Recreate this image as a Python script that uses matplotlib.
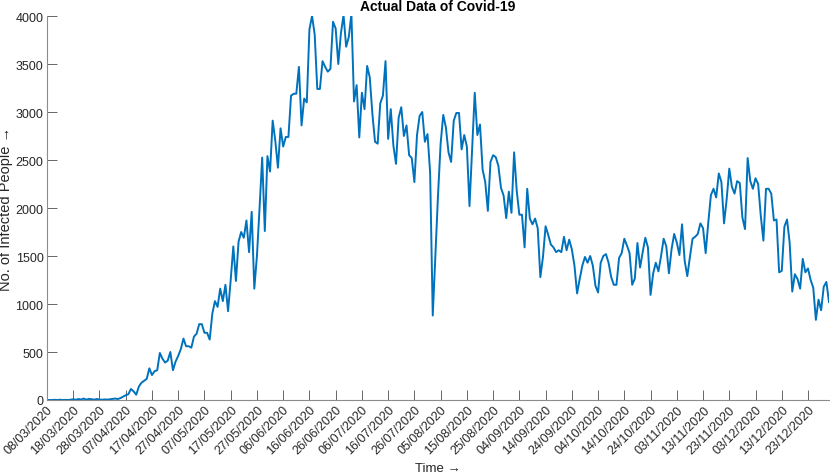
import numpy as np
import matplotlib
matplotlib.use("Agg")
import matplotlib.pyplot as plt

plt.rcParams['font.family'] = ['Liberation Sans', 'DejaVu Sans']

# Daily infected counts, 08/03/2020 - 31/12/2020
mar = [0, 0, 0, 2, 0, 3, 0, 1, 0, 3, 8, 2, 10, 5, 15, 3, 12, 8, 4, 10, 5, 3, 6, 4]
apr = [8, 12, 15, 10, 20, 35, 50, 60, 115, 90, 55, 140, 180, 200, 220, 330, 260, 300, 310, 490,
       430, 390, 410, 500, 310, 400, 460, 530, 640, 560]
may = [560, 545, 660, 690, 790, 790, 700, 700, 630, 900, 1030, 970, 1160, 1030, 1200, 925,
       1250, 1600, 1240, 1650, 1750, 1690, 1870, 1540, 1960, 1160, 1500, 2000, 2525, 1760, 2540]
jun = [2380, 2910, 2700, 2420, 2830, 2640, 2740, 2740, 3170, 3190, 3190, 3470, 2860, 3140, 3100,
       3860, 4000, 3810, 3240, 3240, 3530, 3470, 3420, 3450, 3940, 3870, 3500, 3820, 4010, 3680]
jul = [3780, 4020, 3110, 3280, 2735, 3200, 3030, 3480, 3360, 2980, 2690, 2670, 3090, 3170, 3530,
       2720, 3030, 2650, 2460, 2940, 3050, 2750, 2860, 2550, 2520, 2270, 2760, 2960, 3000, 2690, 2770]
aug = [2370, 880, 1500, 2130, 2670, 2970, 2840, 2580, 2480, 2910, 2990, 2990, 2610, 2760, 2640,
       2020, 2610, 3200, 2760, 2870, 2400, 2270, 1970, 2480, 2550, 2530, 2440, 2210, 2130, 1895, 2170]
sep = [1950, 2580, 2180, 1930, 1930, 1590, 2200, 1890, 1830, 1890, 1790, 1280, 1490, 1810, 1720,
       1620, 1590, 1540, 1560, 1540, 1700, 1560, 1670, 1570, 1400, 1110, 1260, 1400, 1490, 1430]
oct_ = [1500, 1400, 1190, 1120, 1430, 1500, 1520, 1430, 1280, 1200, 1200, 1480, 1530, 1680, 1610,
        1530, 1200, 1265, 1635, 1380, 1540, 1690, 1590, 1095, 1320, 1430, 1340, 1500, 1680, 1600, 1320]
nov = [1570, 1730, 1640, 1510, 1830, 1450, 1290, 1490, 1680, 1700, 1730, 1840, 1790, 1530, 1850,
       2135, 2200, 2110, 2360, 2270, 1840, 2090, 2410, 2220, 2150, 2280, 2260, 1900, 1780, 2520]
dec = [2280, 2200, 2310, 2250, 1920, 1660, 2200, 2200, 2150, 1870, 1880, 1330, 1345, 1805, 1880,
       1640, 1130, 1310, 1260, 1160, 1470, 1330, 1370, 1250, 1170, 835, 1045, 935, 1180, 1230, 1020]

values = mar + apr + may + jun + jul + aug + sep + oct_ + nov + dec

tick_labels = ['08/03/2020', '18/03/2020', '28/03/2020', '07/04/2020', '17/04/2020',
               '27/04/2020', '07/05/2020', '17/05/2020', '27/05/2020', '06/06/2020',
               '16/06/2020', '26/06/2020', '06/07/2020', '16/07/2020', '26/07/2020',
               '05/08/2020', '15/08/2020', '25/08/2020', '04/09/2020', '14/09/2020',
               '24/09/2020', '04/10/2020', '14/10/2020', '24/10/2020', '03/11/2020',
               '13/11/2020', '23/11/2020', '03/12/2020', '13/12/2020', '23/12/2020']
y_ticks = [0, 500, 1000, 1500, 2000, 2500, 3000, 3500, 4000]

days = np.arange(len(values))

fig = plt.figure(figsize=(8.3, 4.77), dpi=100)
ax = fig.add_axes([47 / 830, 1 - 401 / 477, 782 / 830, 384 / 477])
ax.plot(days, values, color='#0072BD', lw=1.4)

ax.set_xlim(0, len(values) - 1)
ax.set_ylim(0, 4000)
ax.set_yticks(y_ticks)
ax.set_yticklabels([str(v) for v in y_ticks])
ax.set_xticks(np.arange(0, len(values), 10)[:len(tick_labels)])
ax.set_xticklabels(tick_labels, rotation=45, ha='right', rotation_mode='anchor')

for s in ['top', 'right']:
    ax.spines[s].set_visible(False)
for s in ['left', 'bottom']:
    ax.spines[s].set_color('#8c8c8c')
    ax.spines[s].set_linewidth(0.8)
ax.tick_params(direction='in', length=7.5, width=0.6, color='#4d4d4d',
               labelsize=9, labelcolor='#262626', pad=2.5)

ax.set_title('Actual Data of Covid-19', fontsize=10, fontweight='bold', pad=4)
ax.set_xlabel('Time \u2192', fontsize=9.5, color='#262626', labelpad=4)
ax.set_ylabel('No. of Infected People \u2192', fontsize=10.5, color='#262626', labelpad=2)

fig.savefig('out.png', dpi=100)
